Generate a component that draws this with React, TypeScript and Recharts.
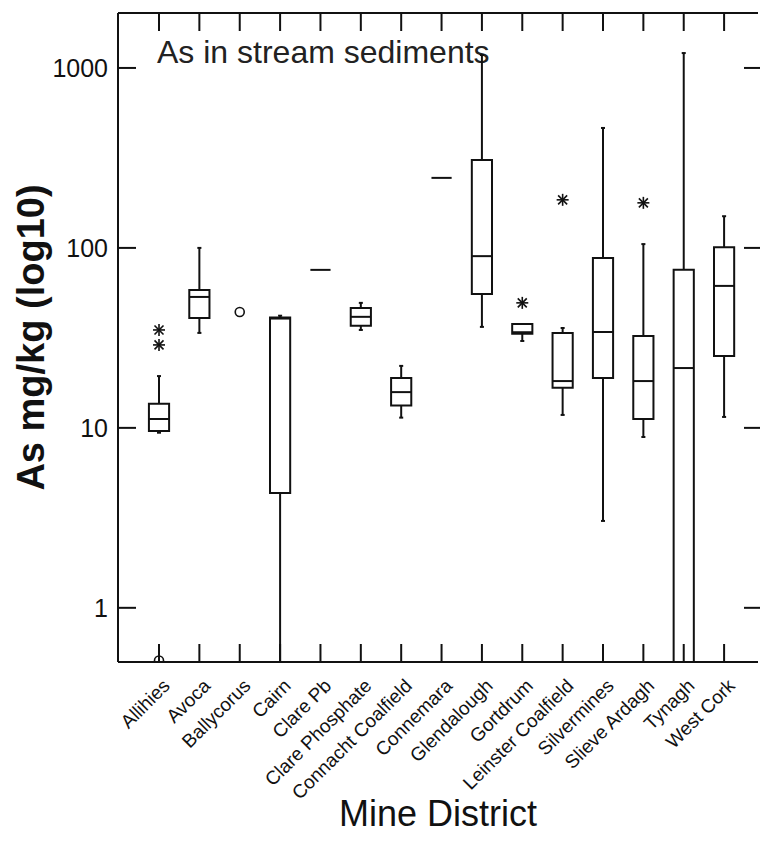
import React from "react";
import {
  ComposedChart,
  XAxis,
  YAxis,
  Scatter,
  ReferenceArea,
  ReferenceLine,
  Label,
  Customized,
} from "recharts";

const districts = [
  "Allihies",
  "Avoca",
  "Ballycorus",
  "Cairn",
  "Clare Pb",
  "Clare Phosphate",
  "Connacht Coalfield",
  "Connemara",
  "Glendalough",
  "Gortdrum",
  "Leinster Coalfield",
  "Silvermines",
  "Slieve Ardagh",
  "Tynagh",
  "West Cork",
];

// box plot stats, As mg/kg (null = not drawn)
const whiskerLow = [9.4, 33.7, null, 0.5, null, 35, 11.4, null, 36.4, 30.4, 11.8, 3.04, 8.9, null, 11.5];
const q1 = [9.6, 40.8, null, 4.35, 75.5, 36.9, 13.3, 245, 55.5, 33.3, 16.7, 18.9, 11.2, 0.5, 25.1];
const median = [11.2, 53.4, null, 40.5, 75.5, 41.4, 15.8, 245, 90, 34, 18.2, 34.1, 18.2, 21.5, 61.5];
const q3 = [13.6, 58.4, null, 41, 75.5, 46.4, 18.9, 245, 308, 37.8, 33.7, 88, 32.4, 75.5, 101];
const whiskerHigh = [19.4, 100, null, 42, null, 49.5, 22.1, null, 1180, null, 35.9, 464, 105, 1210, 150];

// outliers: [district index, value]
const starOutliers = [
  [0, 35],
  [0, 28.9],
  [9, 49.5],
  [10, 185],
  [12, 178],
];
const circleOutliers = [
  [0, 0.51],
  [2, 44],
];

const yTicks = [1, 10, 100, 1000];
const xTicks = districts.map((_, i) => i);

const FONT = "'Liberation Sans', Arial, sans-serif";
const INK = "#111";
const HALF_BOX = 0.25;
const HALF_CAP = 0.05;

const BottomTick = (props: any) => {
  const { x, y, payload } = props;
  const tx = x + 12;
  const ty = y + 25;
  return (
    <g>
      <line x1={x} y1={y} x2={x} y2={y - 18} stroke={INK} strokeWidth={2} />
      <text
        x={tx}
        y={ty}
        transform={`rotate(-45 ${tx} ${ty})`}
        textAnchor="end"
        fontSize={19}
        fontFamily={FONT}
        fill={INK}
      >
        {districts[payload.value]}
      </text>
    </g>
  );
};

const TopTick = (props: any) => {
  const { x, y } = props;
  return <line x1={x} y1={y} x2={x} y2={y + 18} stroke={INK} strokeWidth={2} />;
};

const LeftTick = (props: any) => {
  const { x, y, payload } = props;
  return (
    <g>
      <line x1={x} y1={y} x2={x + 18} y2={y} stroke={INK} strokeWidth={2} />
      <text
        x={x - 10}
        y={y + 9}
        textAnchor="end"
        fontSize={25}
        fontFamily={FONT}
        fill={INK}
      >
        {payload.value}
      </text>
    </g>
  );
};

const RightTick = (props: any) => {
  const { x, y } = props;
  return <line x1={x + 2} y1={y} x2={x - 14} y2={y} stroke={INK} strokeWidth={2} />;
};

const Star = (props: any) => {
  const { cx, cy } = props;
  const r = 6;
  const d = 4.5;
  return (
    <g stroke={INK} strokeWidth={1.6}>
      <line x1={cx - r} y1={cy} x2={cx + r} y2={cy} />
      <line x1={cx - d} y1={cy - d} x2={cx + d} y2={cy + d} />
      <line x1={cx - d} y1={cy + d} x2={cx + d} y2={cy - d} />
      <line x1={cx} y1={cy - r} x2={cx} y2={cy + r} />
    </g>
  );
};

const Ring = (props: any) => {
  const { cx, cy } = props;
  return <circle cx={cx} cy={cy} r={4.5} fill="none" stroke={INK} strokeWidth={1.6} />;
};

const Title = () => (
  <text x={157} y={63} fontSize={32} fontFamily={FONT} fill="#222">
    As in stream sediments
  </text>
);

const starData = starOutliers.map(([i, v]) => ({ x: i, y: v }));
const circleData = circleOutliers.map(([i, v]) => ({ x: i, y: v }));

export default function App() {
  const line = { stroke: INK, strokeWidth: 2, ifOverflow: "visible" as const };

  return (
    <div style={{ position: "absolute", left: 0, top: 0, background: "#fff" }}>
      <ComposedChart
        width={760}
        height={852}
        margin={{ top: 0, right: 0, bottom: 0, left: 0 }}
      >
        <XAxis
          type="number"
          dataKey="x"
          domain={[-1.016, 14.84]}
          ticks={xTicks}
          interval={0}
          allowDataOverflow
          height={190}
          tickSize={0}
          tickMargin={0}
          tickLine={false}
          axisLine={{ stroke: INK, strokeWidth: 2 }}
          tick={<BottomTick />}
        >
          <Label
            value="Mine District"
            position="insideBottom"
            offset={26}
            style={{ fontSize: 36, fontFamily: FONT, fill: INK }}
          />
        </XAxis>
        <XAxis
          xAxisId="top"
          orientation="top"
          type="number"
          dataKey="x"
          domain={[-1.016, 14.84]}
          ticks={xTicks}
          interval={0}
          allowDataOverflow
          height={13}
          tickSize={0}
          tickMargin={0}
          tickLine={false}
          axisLine={{ stroke: INK, strokeWidth: 2 }}
          tick={<TopTick />}
        />
        <YAxis
          type="number"
          dataKey="y"
          scale="log"
          domain={[0.5, 2020]}
          ticks={yTicks}
          interval={0}
          allowDataOverflow
          width={118}
          tickSize={0}
          tickMargin={0}
          tickLine={false}
          axisLine={{ stroke: INK, strokeWidth: 2 }}
          tick={<LeftTick />}
        >
          <Label
            value="As mg/kg (log10)"
            angle={-90}
            position="insideLeft"
            offset={31}
            style={{
              fontSize: 38,
              fontWeight: "bold",
              fontFamily: FONT,
              fill: INK,
              textAnchor: "middle",
            }}
          />
        </YAxis>
        <YAxis
          yAxisId="right"
          orientation="right"
          type="number"
          dataKey="y"
          scale="log"
          domain={[0.5, 2020]}
          ticks={yTicks}
          interval={0}
          allowDataOverflow
          width={2}
          tickSize={0}
          tickMargin={0}
          tickLine={false}
          axisLine={false}
          tick={<RightTick />}
        />

        {districts.map((_, i) =>
          whiskerLow[i] != null && q1[i] != null ? (
            <React.Fragment key={`wl-${i}`}>
              <ReferenceLine segment={[{ x: i, y: whiskerLow[i] }, { x: i, y: q1[i] }]} {...line} />
              <ReferenceLine
                segment={[{ x: i - HALF_CAP, y: whiskerLow[i] }, { x: i + HALF_CAP, y: whiskerLow[i] }]}
                {...line}
              />
            </React.Fragment>
          ) : null
        )}
        {districts.map((_, i) =>
          whiskerHigh[i] != null && q3[i] != null ? (
            <React.Fragment key={`wh-${i}`}>
              <ReferenceLine segment={[{ x: i, y: q3[i] }, { x: i, y: whiskerHigh[i] }]} {...line} />
              <ReferenceLine
                segment={[{ x: i - HALF_CAP, y: whiskerHigh[i] }, { x: i + HALF_CAP, y: whiskerHigh[i] }]}
                {...line}
              />
            </React.Fragment>
          ) : null
        )}
        {districts.map((_, i) =>
          q1[i] != null && q3[i] != null && q1[i] !== q3[i] ? (
            <ReferenceArea
              key={`box-${i}`}
              x1={i - HALF_BOX}
              x2={i + HALF_BOX}
              y1={q1[i]}
              y2={q3[i]}
              fill="#fff"
              fillOpacity={1}
              stroke={INK}
              strokeWidth={2}
              ifOverflow="visible"
            />
          ) : null
        )}
        {districts.map((_, i) =>
          median[i] != null ? (
            <ReferenceLine
              key={`med-${i}`}
              segment={[{ x: i - HALF_BOX, y: median[i] }, { x: i + HALF_BOX, y: median[i] }]}
              {...line}
            />
          ) : null
        )}

        <Scatter data={starData} shape={<Star />} isAnimationActive={false} />
        <Scatter data={circleData} shape={<Ring />} isAnimationActive={false} />
        <Customized component={Title} />
      </ComposedChart>
    </div>
  );
}
